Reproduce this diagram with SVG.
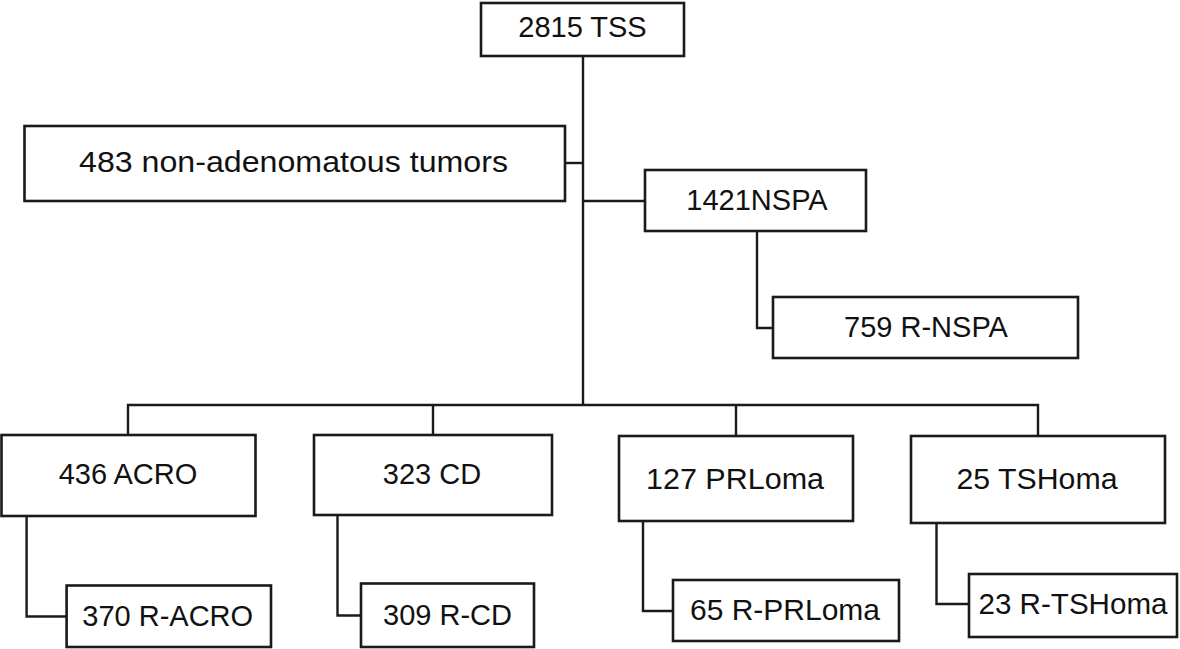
<svg xmlns="http://www.w3.org/2000/svg" width="1180" height="649" viewBox="0 0 1180 649">
<style>
.box{fill:#ffffff;stroke:#1a1a1a;stroke-width:2.6}
.lbl{font-family:"Liberation Sans",Arial,sans-serif;font-size:29px;fill:#111111;text-anchor:middle}
.con{fill:none;stroke:#1a1a1a;stroke-width:2.4}
</style>
<rect width="1180" height="649" fill="#ffffff"/>
<g id="connectors">
<path class="con" d="M583,56 V405"/>
<path class="con" d="M565,163 H583"/>
<path class="con" d="M583,201 H645"/>
<path class="con" d="M128,435 V405 H1038 V436"/>
<path class="con" d="M433,405 V435"/>
<path class="con" d="M736,405 V436"/>
<path class="con" d="M757,231 V328 H773"/>
<path class="con" d="M26.6,516 V616.5 H66.6"/>
<path class="con" d="M337.5,515 V615.5 H361"/>
<path class="con" d="M643,521 V611 H673"/>
<path class="con" d="M936.5,523 V604 H969"/>
</g>
<g id="n-tss"><rect class="box" x="481" y="3" width="203" height="53"/><text class="lbl" x="582.5" y="37">2815 TSS</text></g>
<g id="n-nonaden"><rect class="box" x="24.5" y="126" width="540.5" height="75"/><text class="lbl" x="293.5" y="172" textLength="429" lengthAdjust="spacingAndGlyphs">483 non-adenomatous tumors</text></g>
<g id="n-nspa"><rect class="box" x="645" y="170" width="221" height="61"/><text class="lbl" x="757" y="210">1421NSPA</text></g>
<g id="n-rnspa"><rect class="box" x="773" y="297" width="305" height="61"/><text class="lbl" x="926" y="337">759 R-NSPA</text></g>
<g id="n-acro"><rect class="box" x="1.5" y="435" width="254" height="81"/><text class="lbl" x="128" y="484">436 ACRO</text></g>
<g id="n-cd"><rect class="box" x="314" y="435" width="238" height="80"/><text class="lbl" x="432" y="484">323 CD</text></g>
<g id="n-prl"><rect class="box" x="619" y="436" width="234" height="85"/><text class="lbl" x="735" y="489" textLength="178" lengthAdjust="spacingAndGlyphs">127 PRLoma</text></g>
<g id="n-tsh"><rect class="box" x="911" y="436" width="254" height="87"/><text class="lbl" x="1037" y="489" textLength="161" lengthAdjust="spacingAndGlyphs">25 TSHoma</text></g>
<g id="n-racro"><rect class="box" x="66.6" y="585.5" width="204.4" height="61.5"/><text class="lbl" x="167.7" y="626">370 R-ACRO</text></g>
<g id="n-rcd"><rect class="box" x="361" y="583.5" width="173" height="63.5"/><text class="lbl" x="447.5" y="625">309 R-CD</text></g>
<g id="n-rprl"><rect class="box" x="673" y="580" width="226" height="61"/><text class="lbl" x="785" y="620" textLength="190" lengthAdjust="spacingAndGlyphs">65 R-PRLoma</text></g>
<g id="n-rtsh"><rect class="box" x="969" y="574" width="208" height="63"/><text class="lbl" x="1073" y="614" textLength="189" lengthAdjust="spacingAndGlyphs">23 R-TSHoma</text></g>
</svg>
